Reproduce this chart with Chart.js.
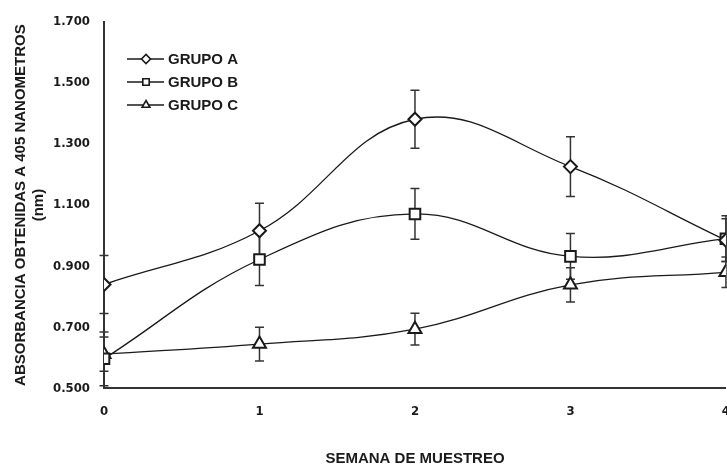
<!DOCTYPE html>
<html>
<head>
<meta charset="utf-8">
<script src="https://cdn.jsdelivr.net/npm/chart.js@4/dist/chart.umd.min.js"></script>
<style>
  body { margin: 0; overflow: hidden; background: #fff; }
  #wrap { width: 745px; height: 468px; position: relative; }
</style>
</head>
<body>
<div id="wrap"><canvas id="myChart"></canvas></div>
<script>
const weeks = [0, 1, 2, 3, 4];
const xTicks = [0, 1, 2, 3, 4];
const yTicks = [0.5, 0.7, 0.9, 1.1, 1.3, 1.5, 1.7];

const grupoA = [0.840, 1.016, 1.381, 1.226, 0.985];
const errA   = [0.095, 0.090, 0.095, 0.098, 0.070];
const grupoB = [0.597, 0.922, 1.071, 0.932, 0.990];
const errB   = [0.088, 0.085, 0.083, 0.075, 0.075];
const grupoC = [0.612, 0.645, 0.694, 0.839, 0.880];
const errC   = [0.056, 0.055, 0.052, 0.056, 0.050];

const ink = '#1a1a1a';
const textFont = "'Liberation Sans', Arial, sans-serif";
const tickFont = { family: "'DejaVu Sans Condensed', 'DejaVu Sans'", weight: 'bold', size: 13 };

function makeSet(label, values, errs, style, radius) {
  return {
    label: label,
    data: weeks.map((w, i) => ({ x: w, y: values[i] })),
    errors: errs,
    borderColor: ink,
    borderWidth: 1.3,
    tension: 0.4,
    pointStyle: style,
    pointRadius: radius,
    pointHoverRadius: radius,
    pointBackgroundColor: '#fff',
    pointBorderColor: ink,
    pointBorderWidth: 2,
    fill: false
  };
}

// error bars, drawn under the lines and markers
const errorBars = {
  id: 'errorBars',
  beforeDatasetsDraw(chart) {
    const ctx = chart.ctx;
    const yScale = chart.scales.y;
    ctx.save();
    ctx.strokeStyle = '#333';
    ctx.lineWidth = 1.5;
    chart.data.datasets.forEach((ds, di) => {
      const meta = chart.getDatasetMeta(di);
      meta.data.forEach((pt, i) => {
        const v = ds.data[i].y, e = ds.errors[i];
        const top = yScale.getPixelForValue(v + e);
        const bot = yScale.getPixelForValue(v - e);
        ctx.beginPath();
        ctx.moveTo(pt.x, top); ctx.lineTo(pt.x, bot);
        ctx.moveTo(pt.x - 4.5, top); ctx.lineTo(pt.x + 4.5, top);
        ctx.moveTo(pt.x - 4.5, bot); ctx.lineTo(pt.x + 4.5, bot);
        ctx.stroke();
      });
    });
    ctx.restore();
  }
};

// legend inside the plot: short line with marker, then label
const innerLegend = {
  id: 'innerLegend',
  afterDraw(chart) {
    const ctx = chart.ctx;
    ctx.save();
    chart.data.datasets.forEach((ds, i) => {
      const y = 59 + i * 23;
      ctx.strokeStyle = ink;
      ctx.lineWidth = 1.3;
      ctx.beginPath();
      ctx.moveTo(127, y); ctx.lineTo(164, y);
      ctx.stroke();
      ctx.fillStyle = '#fff';
      ctx.lineWidth = 1.6;
      Chart.helpers.drawPoint(ctx, { pointStyle: ds.pointStyle, radius: 4.5, borderWidth: 1.6 }, 146, y);
      ctx.fillStyle = ink;
      ctx.font = 'bold 15px ' + textFont;
      ctx.textBaseline = 'middle';
      ctx.fillText(ds.label, 168, y + 1);
    });
    ctx.restore();
  }
};

const config = {
  type: 'line',
  data: {
    datasets: [
      makeSet('GRUPO A', grupoA, errA, 'rectRot', 6.5),
      makeSet('GRUPO B', grupoB, errB, 'rect', 7.5),
      makeSet('GRUPO C', grupoC, errC, 'triangle', 7.5)
    ]
  },
  options: {
    responsive: true,
    maintainAspectRatio: false,
    animation: false,
    layout: { padding: { left: 8, top: 19, right: 0, bottom: 0 } },
    plugins: { legend: { display: false }, tooltip: { enabled: false } },
    scales: {
      x: {
        type: 'linear',
        min: 0, max: 4,
        afterBuildTicks: axis => { axis.ticks = xTicks.map(v => ({ value: v })); },
        grid: { drawOnChartArea: false, drawTicks: false, color: 'rgba(0,0,0,0)' },
        border: { color: '#333', width: 2 },
        ticks: { color: ink, padding: 15, maxRotation: 0, font: tickFont },
        title: {
          display: true,
          text: 'SEMANA DE MUESTREO',
          color: ink,
          padding: { top: 16, bottom: 0 },
          font: { family: textFont, weight: 'bold', size: 15 }
        }
      },
      y: {
        min: 0.5, max: 1.7,
        afterBuildTicks: axis => { axis.ticks = yTicks.map(v => ({ value: v })); },
        afterFit: axis => { axis.width = 96; },
        grid: { drawOnChartArea: false, drawTicks: false, color: 'rgba(0,0,0,0)' },
        border: { color: '#333', width: 2 },
        ticks: {
          color: ink, padding: 14,
          font: tickFont,
          callback: v => v.toFixed(3)
        },
        title: {
          display: true,
          text: ['ABSORBANCIA OBTENIDAS A 405 NANOMETROS', '(nm)'],
          color: ink,
          padding: 4,
          font: { family: textFont, weight: 'bold', size: 15 }
        }
      }
    }
  },
  plugins: [errorBars, innerLegend]
};

const myChart = new Chart('myChart', config);
</script>
</body>
</html>
